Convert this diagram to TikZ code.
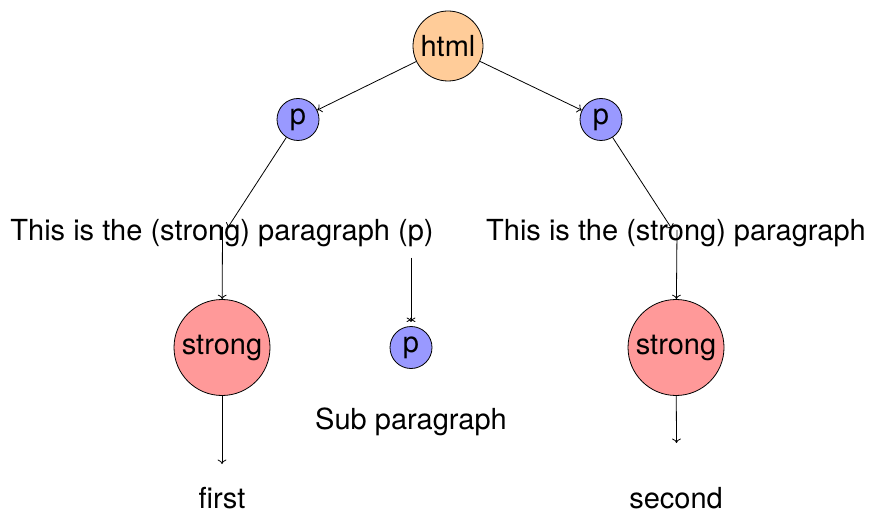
\documentclass[tikz,border=0pt]{standalone}
\usepackage{fontspec}
\setmainfont{TeX Gyre Heros}
\usetikzlibrary{arrows.meta}
\begin{document}
\begin{tikzpicture}[x=0.5pt,y=-0.5pt,
  every node/.style={font=\fontsize{14.5pt}{16pt}\selectfont, inner sep=0pt},
  tag/.style={circle, draw=black, line width=0.4pt},
  htmltag/.style={tag, fill={rgb,255:red,255;green,204;blue,153}, minimum size=35pt},
  ptag/.style={tag, fill={rgb,255:red,153;green,153;blue,255}, minimum size=21pt},
  strongtag/.style={tag, fill={rgb,255:red,255;green,153;blue,153}, minimum size=48pt},
  txt/.style={},
  link/.style={draw, line width=0.4pt, -{To[length=2.2pt,width=4.4pt]}}
]
\useasboundingbox (0,0) rectangle (870,512);

% element nodes
\node[htmltag] (html) at (448,46) {html};
\node[ptag] (p1) at (298,119.5) {p};
\node[ptag] (p2) at (601,119.5) {p};
\node[strongtag] (s1) at (222,347.5) {strong};
\node[strongtag] (s2) at (676,347.5) {strong};
\node[ptag] (p3) at (411,347.5) {p};

% text nodes
\node[txt] (t1) at (222,233.5) {This is the (strong) paragraph (p)};
\node[txt] (t2) at (676,233.5) {This is the (strong) paragraph};
\node[txt] (t3) at (411,421.5) {Sub paragraph};
\node[txt] (t4) at (222,498) {first};
\node[txt] (t5) at (676,498) {second};

% attachment points on the text lines
\coordinate (t1in) at (227.5,228);
\coordinate (t1out) at (222.5,227);
\coordinate (t2in) at (672,229);
\coordinate (t2out) at (677,230);
\coordinate (t1mid) at (411,258);
\coordinate (p3top) at (411,322);
\coordinate (t4top) at (222,464);
\coordinate (t5top) at (676.5,443);

% connectors
\draw[link] (html) -- (p1);
\draw[link] (html) -- (p2);
\draw[link] (p1) -- (t1in);
\draw[link] (p2) -- (t2in);
\draw[link] (t1out) -- (s1);
\draw[link] (t2out) -- (s2);
\draw[link] (t1mid) -- (p3top);
\draw[line width=0.4pt, -{To[reversed,length=2.2pt,width=4.4pt]}] (t1mid) -- (p3top);
\draw[link] (s1) -- (t4top);
\draw[link] (s2) -- (t5top);
\end{tikzpicture}
\end{document}
